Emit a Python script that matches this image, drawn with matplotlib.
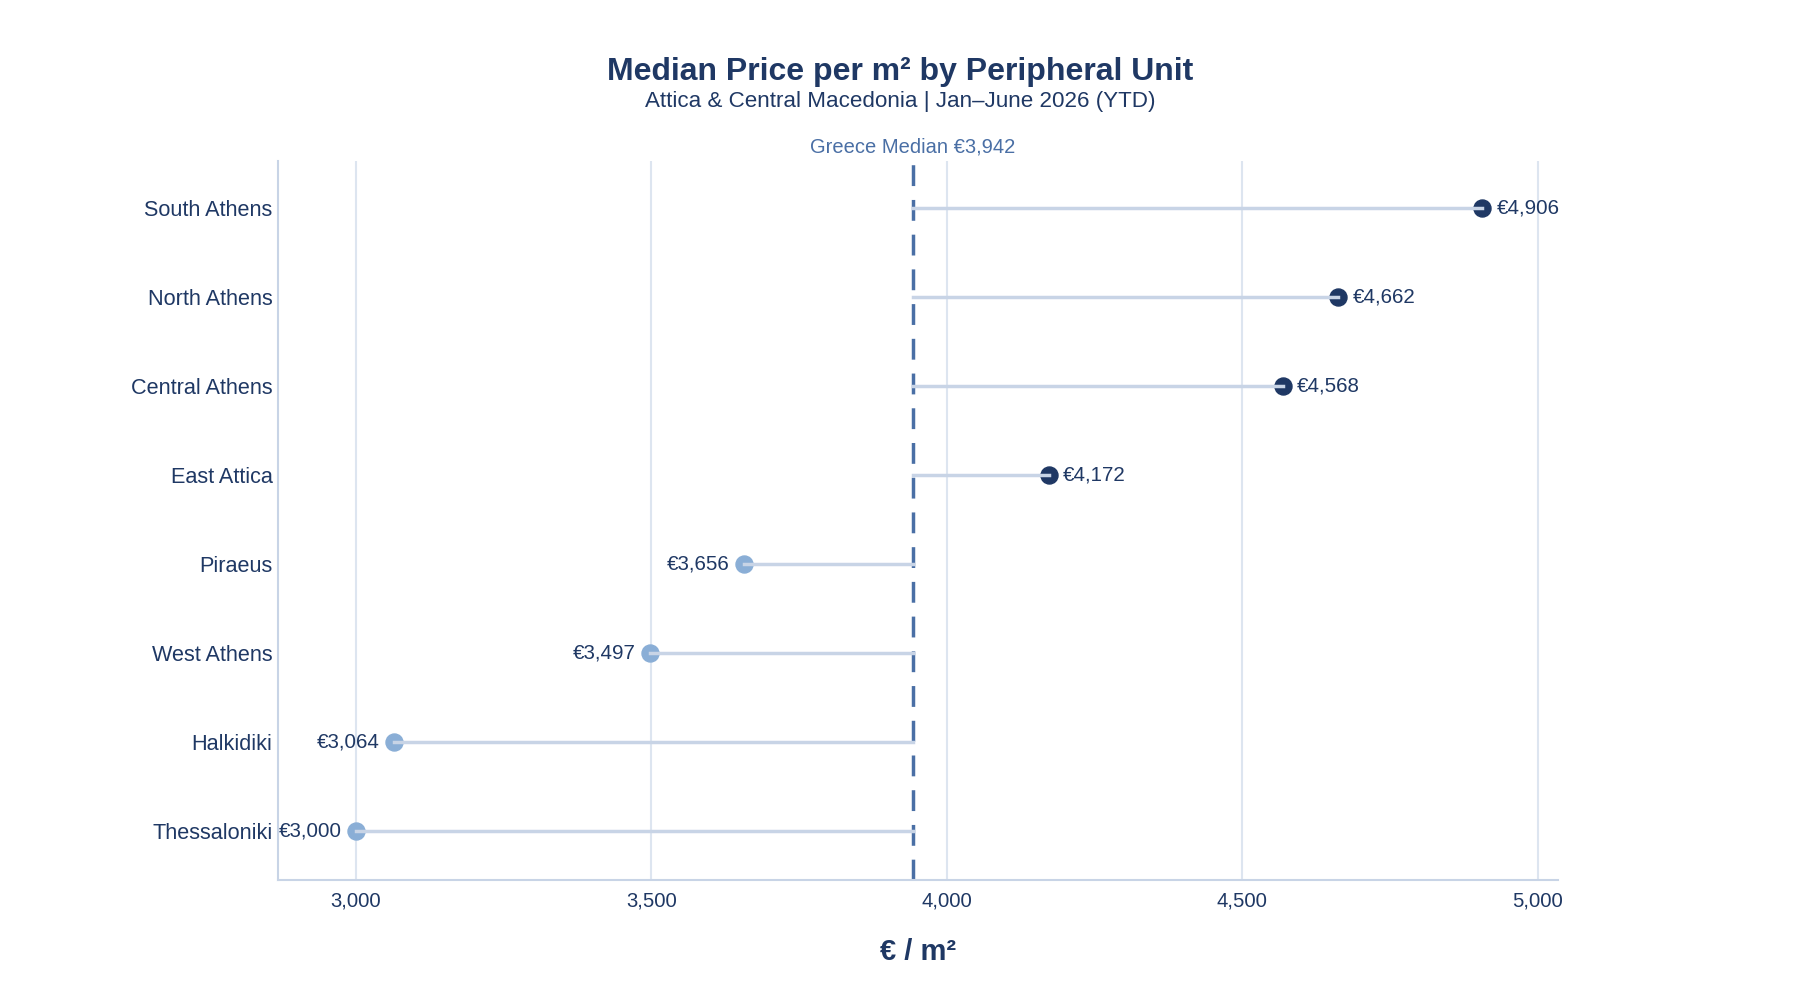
import matplotlib.pyplot as plt

plt.rcParams['font.family'] = ['Liberation Sans', 'DejaVu Sans']

# data
units = ['South Athens', 'North Athens', 'Central Athens', 'East Attica',
         'Piraeus', 'West Athens', 'Halkidiki', 'Thessaloniki']
prices = [4906, 4662, 4568, 4172, 3656, 3497, 3064, 3000]
greece_median = 3942

navy = '#1f3864'
light = '#8aaed6'
stem = '#c8d4e6'
grid = '#dde5f0'
ref = '#4a6fa5'

fig = plt.figure(figsize=(18, 10), dpi=100)
ax = fig.add_axes([278 / 1800, 1 - 880 / 1000, (1558 - 278) / 1800, (880 - 161) / 1000])

ypos = list(range(len(units)))
for y, p in zip(ypos, prices):
    col = navy if p >= greece_median else light
    ax.scatter(p, y, s=150, color=col, zorder=3)
    ax.plot([greece_median, p], [y, y], color=stem, lw=2.5, zorder=4)
    lab = '€{:,}'.format(p)
    if p >= greece_median:
        ax.text(p + 24, y, lab, ha='left', va='center', fontsize=14.8, color=navy, zorder=5)
    else:
        ax.text(p - 24, y, lab, ha='right', va='center', fontsize=14.8, color=navy, zorder=5)

ax.axvline(greece_median, color=ref, lw=2.5, ls=(0, (6, 4)), zorder=2)
ax.text(greece_median, -0.69, 'Greece Median €3,942', ha='center', va='center',
        fontsize=14.5, color=ref)

ax.set_xlim(2868, 5034)
ax.set_ylim(7.55, -0.53)
ax.set_yticks(ypos)
ax.set_yticklabels(units)
ax.set_xticks([3000, 3500, 4000, 4500, 5000])
ax.set_xticklabels(['3,000', '3,500', '4,000', '4,500', '5,000'])
ax.tick_params(axis='y', length=0, pad=4, labelsize=15.6, labelcolor=navy)
ax.tick_params(axis='x', length=0, pad=8, labelsize=14.6, labelcolor=navy)
ax.grid(axis='x', color=grid, lw=1.5, zorder=0)
ax.set_axisbelow(True)
for s in ['top', 'right']:
    ax.spines[s].set_visible(False)
for s in ['left', 'bottom']:
    ax.spines[s].set_color(stem)
    ax.spines[s].set_linewidth(1.5)

ax.set_xlabel('€ / m²', fontsize=21, fontweight='heavy', color=navy, labelpad=20)

fig.text(0.5, 1 - 72 / 1000, 'Median Price per m² by Peripheral Unit', ha='center', va='center',
         fontsize=23, fontweight='bold', color=navy)
fig.text(0.5, 1 - 102 / 1000, 'Attica & Central Macedonia | Jan–June 2026 (YTD)', ha='center',
         va='center', fontsize=16.1, color=navy)

fig.savefig('out.png', dpi=100, facecolor='white')
